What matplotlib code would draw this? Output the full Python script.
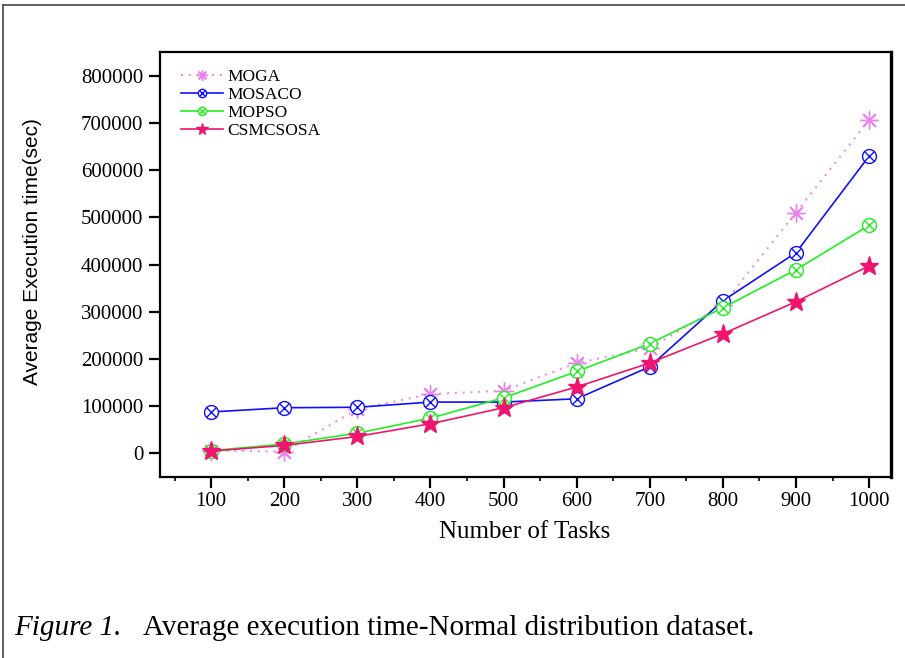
import matplotlib
matplotlib.use('Agg')
import matplotlib.pyplot as plt
from matplotlib import font_manager
from matplotlib.lines import Line2D
from matplotlib.legend_handler import HandlerTuple
from matplotlib.ticker import MultipleLocator

# Values
tasks = [100, 200, 300, 400, 500, 600, 700, 800, 900, 1000]
moga = [5000, 3000, 93000, 125000, 132000, 191000, 222000, 315000, 510000, 707000]
mosaco = [87000, 96000, 97000, 108000, 108000, 115000, 183000, 323000, 425000, 630000]
mopso = [5000, 19000, 42000, 74000, 117000, 173000, 232000, 308000, 389000, 483000]
csmcsosa = [4000, 16000, 35000, 62000, 96000, 140000, 191000, 253000, 321000, 397000]

serif = ['Liberation Serif', 'DejaVu Serif']

# y label in the original uses a narrow sans face
names = {f.name for f in font_manager.fontManager.ttflist}
if 'Liberation Sans Narrow' in names:
    ylab_font, ylab_size = ['Liberation Sans Narrow', 'Liberation Sans'], 18
else:
    ylab_font, ylab_size = ['Liberation Sans', 'DejaVu Sans'], 15

pink = '#f080f0'
blue = '#1010ff'
green = '#20f020'
red = '#f0146e'

fig = plt.figure(figsize=(9.05, 6.58), dpi=100)
ax = fig.add_axes([160 / 905, 1 - 477 / 658, (891 - 160) / 905, (477 - 52) / 658])

# MOGA: dotted line with asterisks
h_moga, = ax.plot(tasks, moga, linestyle=(0, (1, 3)), color=pink, lw=1.4,
                  marker=(8, 2, 0), markersize=13, mec=pink, mew=1.0)

# MOSACO: circle with cross
h_mos_l, = ax.plot(tasks, mosaco, '-', color=blue, lw=1.2, marker='o',
                   markersize=10, mfc='white', mec=blue, mew=1.0)
h_mos_x, = ax.plot(tasks, mosaco, linestyle='none', marker='x', markersize=7,
                   mec=blue, mew=1.0)

# MOPSO: circle with cross
h_mop_l, = ax.plot(tasks, mopso, '-', color=green, lw=1.2, marker='o',
                   markersize=10, mfc='white', mec=green, mew=1.0)
h_mop_x, = ax.plot(tasks, mopso, linestyle='none', marker='x', markersize=7,
                   mec=green, mew=1.0)

# CSMCSOSA: stars
h_cs, = ax.plot(tasks, csmcsosa, '-', color=red, lw=1.2, marker='*',
                markersize=14, mfc=red, mec=red)

ax.set_xlim(30, 1030)
ax.set_ylim(-51000, 851000)
ax.set_xticks(tasks)
ax.xaxis.set_minor_locator(MultipleLocator(50))
ax.set_yticks(range(0, 800001, 100000))

for s in ax.spines.values():
    s.set_linewidth(1.6)
ax.spines['right'].set_linewidth(2.4)

ax.tick_params(axis='both', which='major', direction='out', length=8, width=1.6,
               labelsize=15, pad=4)
ax.tick_params(axis='x', which='minor', direction='out', length=3, width=1.2)
ax.tick_params(axis='x', which='major', pad=3)
for lab in ax.get_xticklabels() + ax.get_yticklabels():
    lab.set_family(serif)

ax.set_xlabel('Number of Tasks', family=serif, fontsize=18)
ax.xaxis.set_label_coords((525 - 160) / 731, (477 - 532) / 425)
ax.set_ylabel('Average Execution time(sec)', family=ylab_font, fontsize=ylab_size)
ax.yaxis.set_label_coords((33 - 160) / 731, (477 - 252) / 425)
ax.xaxis.label.set_va('center')
ax.yaxis.label.set_va('center')

leg = ax.legend([h_moga, (h_mos_l, h_mos_x), (h_mop_l, h_mop_x), h_cs],
                ['MOGA', 'MOSACO', 'MOPSO', 'CSMCSOSA'],
                handler_map={tuple: HandlerTuple(ndivide=1, pad=0)},
                loc='upper left', frameon=False, prop={'family': serif, 'size': 12.5},
                handlelength=2.4, handletextpad=0.25, labelspacing=0.1,
                borderaxespad=0.5, markerscale=0.6, bbox_to_anchor=(0.008, 0.996))

# Caption below the chart
fig.text(14 / 905, 1 - 628 / 658, 'Figure 1.', family=serif, style='italic',
         fontsize=21, va='center', ha='left')
fig.text(143 / 905, 1 - 628 / 658, 'Average execution time-Normal distribution dataset.',
         family=serif, fontsize=21, va='center', ha='left')

# Frame of the original figure (left and top edges)
fig.add_artist(Line2D([3 / 905, 3 / 905], [0, 1 - 5 / 658], transform=fig.transFigure,
                      color='#444444', lw=1.2))
fig.add_artist(Line2D([3 / 905, 1], [1 - 5 / 658, 1 - 5 / 658], transform=fig.transFigure,
                      color='#444444', lw=1.2))

fig.savefig('out.png', dpi=100)
